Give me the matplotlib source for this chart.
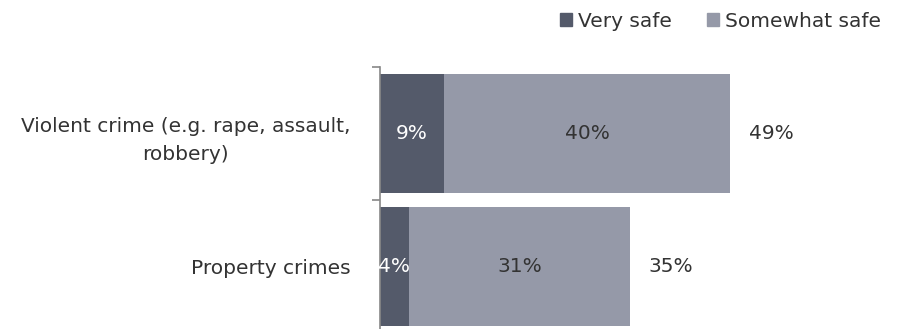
import numpy as np
import matplotlib
matplotlib.use("Agg")
import matplotlib.pyplot as plt
from matplotlib.patches import Patch

# Data
categories = ["Violent crime (e.g. rape, assault,\nrobbery)", "Property crimes"]
very_safe = [9, 4]
somewhat_safe = [40, 31]
totals = [49, 35]

DARK = "#545a6a"
LIGHT = "#9599a8"
TEXT = "#333333"
FS = 14.5

plt.rcParams['font.family'] = ['DejaVu Sans']

fig = plt.figure(figsize=(9.04, 3.29), dpi=100)
ax = fig.add_axes([380 / 904, -4 / 329, 524 / 904, 266 / 329])

y = np.arange(len(categories))
h = 0.9
ax.barh(y, very_safe, height=h, color=DARK, label="Very safe")
ax.barh(y, somewhat_safe, left=very_safe, height=h, color=LIGHT, label="Somewhat safe")

for i in range(len(categories)):
    ax.text(very_safe[i] / 2, y[i], f"{very_safe[i]}%", ha="center", va="center",
            color="white", fontsize=FS)
    ax.text(very_safe[i] + somewhat_safe[i] / 2, y[i], f"{somewhat_safe[i]}%",
            ha="center", va="center", color=TEXT, fontsize=FS)
    ax.text(totals[i] + 2.6, y[i], f"{totals[i]}%", ha="left", va="center",
            color=TEXT, fontsize=FS)

ax.set_xlim(0, 73.3)
ax.set_ylim(1.5, -0.5)
ax.set_xticks([])
ax.set_yticks(y)
ax.set_yticklabels(categories, fontsize=FS, color=TEXT, multialignment="center",
                   linespacing=1.6)
ax.tick_params(axis="y", which="major", length=0, pad=21.5)
ax.set_yticks([-0.5, 0.5, 1.5], minor=True)
ax.tick_params(axis="y", which="minor", length=6, color="#888888", width=1.2)
for s in ["top", "right", "bottom"]:
    ax.spines[s].set_visible(False)
ax.spines["left"].set_color("#888888")
ax.spines["left"].set_linewidth(1.2)

handles = [Patch(color=DARK, label="Very safe"), Patch(color=LIGHT, label="Somewhat safe")]
fig.legend(handles=handles, loc="upper right", bbox_to_anchor=(0.995, 1.02), ncol=2,
           frameon=False, fontsize=FS, handlelength=0.6, handleheight=0.6,
           handletextpad=0.3, columnspacing=1.75, labelcolor=TEXT)

fig.savefig("out.png", dpi=100)
